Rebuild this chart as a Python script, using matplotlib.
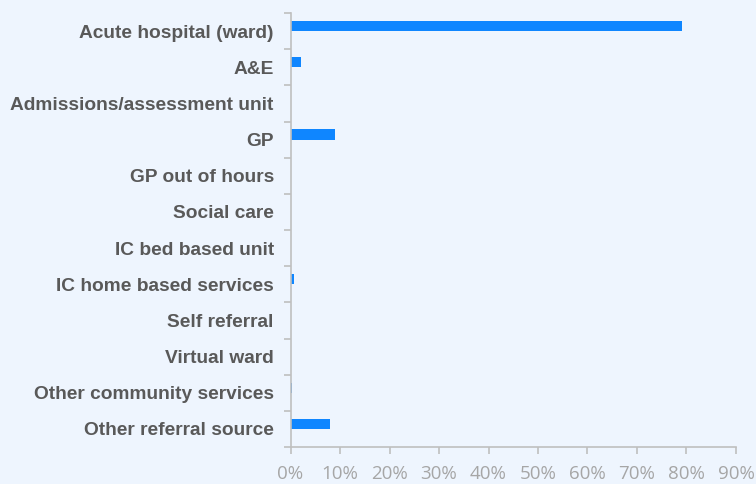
import numpy as np
import matplotlib.pyplot as plt
from matplotlib.ticker import FixedLocator, PercentFormatter

sources = ["Acute hospital (ward)", "A&E", "Admissions/assessment unit", "GP",
           "GP out of hours", "Social care", "IC bed based unit",
           "IC home based services", "Self referral", "Virtual ward",
           "Other community services", "Other referral source"]
share = [79.1, 2.1, 0.0, 9.0, 0.0, 0.0, 0.0, 0.7, 0.0, 0.0, 0.3, 8.0]

bg = "#EEF5FE"
grey_axis = "#BFBFBF"

fig = plt.figure(figsize=(7.56, 4.84), dpi=100, facecolor=bg)
ax = fig.add_axes([0.3843, 0.0764, 0.5892, 0.8967], facecolor=bg)

y = np.arange(len(sources))
# bar sits in the upper half of each category slot
ax.barh(y - 0.14, share, height=0.28, color="#0F86FF")

ax.set_xlim(0, 90)
ax.set_ylim(len(sources) - 0.5, -0.5)
ax.xaxis.set_major_locator(FixedLocator(np.arange(0, 91, 10)))
ax.xaxis.set_major_formatter(PercentFormatter(decimals=0))

ax.set_yticks(y)
ax.set_yticklabels(sources, fontsize=13.8, fontweight="bold", color="#595959",
                   family="Liberation Sans")
ax.yaxis.set_minor_locator(FixedLocator(np.arange(-0.5, len(sources), 1)))
ax.tick_params(axis="y", which="major", length=0, pad=12)
ax.tick_params(axis="y", which="minor", length=5, width=1.2, color=grey_axis)
ax.tick_params(axis="x", length=5, width=1.2, color=grey_axis,
               labelcolor="#A6A6A6", labelsize=13.5, pad=8)
for lbl in ax.get_xticklabels():
    lbl.set_family("Open Sans")

for side in ["top", "right"]:
    ax.spines[side].set_visible(False)
for side in ["left", "bottom"]:
    ax.spines[side].set_color(grey_axis)
    ax.spines[side].set_linewidth(1.2)

fig.savefig("out.png", dpi=100, facecolor=bg)
